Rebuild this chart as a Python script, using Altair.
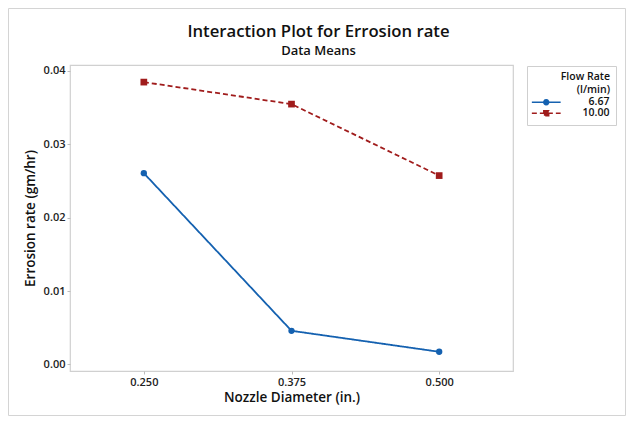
import altair as alt
import pandas as pd

diameters = [0.250, 0.375, 0.500]
flow_levels = ["6.67", "10.00"]
rate_667 = [0.02606, 0.00458, 0.00172]
rate_1000 = [0.03847, 0.03547, 0.02573]

x_ticks = [0.250, 0.375, 0.500]
y_ticks = [0.00, 0.01, 0.02, 0.03, 0.04]

colors = ["#1461b0", "#a01c1c"]

rows = []
for d, r in zip(diameters, rate_667):
    rows.append({"diam": d, "rate": r, "flow": "6.67"})
for d, r in zip(diameters, rate_1000):
    rows.append({"diam": d, "rate": r, "flow": "10.00"})
df = pd.DataFrame(rows)

FONT = "Open Sans"
W, H = 443, 306
PAD = {"left": 62, "top": 57, "right": 113, "bottom": 45}

xenc = alt.X("diam:Q", scale=alt.Scale(domain=[0.1875, 0.5625], nice=False, zero=False),
             axis=alt.Axis(values=x_ticks, format=".3f", title="Nozzle Diameter (in.)"))
yenc = alt.Y("rate:Q", scale=alt.Scale(domain=[-0.0009, 0.0408], nice=False, zero=False),
             axis=alt.Axis(values=y_ticks, format=".2f", title="Errosion rate (gm/hr)"))

cscale = alt.Scale(domain=flow_levels, range=colors)
dscale = alt.Scale(domain=flow_levels, range=[[1, 0], [5, 3]])

base = alt.Chart(df)

# legend glyphs: a short line with the marker in its middle (size 64 -> unit = 4px)
circle_path = "M-3.6,0H3.6M0.6,0A0.6,0.6,0,1,1,-0.6,0A0.6,0.6,0,1,1,0.6,0Z"
square_path = "M-3.6,0H3.6M-0.6,-0.6H0.6V0.6H-0.6Z"

leg = alt.Legend(
    title=["Flow Rate", "(l/min)"], orient="none", legendX=W + 14, legendY=1, padding=6,
    strokeColor="#cfcfcf", titleAnchor="end", titleAlign="right",
    titleFont=FONT, titleFontSize=10.5, titleFontWeight=600, titleColor="#111",
    titleLineHeight=12.5, titlePadding=2,
    labelFont=FONT, labelFontSize=10.5, labelFontWeight=600, labelColor="#111",
    labelAlign="right", labelOffset=58, symbolSize=64, symbolOffset=8,
    symbolStrokeWidth=1.6, rowPadding=-2,
)

legend_layer = base.transform_filter("false").mark_point(filled=True, opacity=1).encode(
    x=xenc, y=yenc,
    color=alt.Color("flow:N", scale=cscale, legend=leg),
    stroke=alt.Stroke("flow:N", scale=alt.Scale(domain=flow_levels, range=colors), legend=leg),
    strokeDash=alt.StrokeDash("flow:N", scale=dscale, legend=leg),
    shape=alt.Shape("flow:N", scale=alt.Scale(domain=flow_levels, range=[circle_path, square_path]), legend=leg),
)

lines = base.mark_line(strokeWidth=1.8).encode(
    x=xenc, y=yenc,
    color=alt.Color("flow:N", scale=cscale),
    strokeDash=alt.StrokeDash("flow:N", scale=dscale),
    detail="flow:N",
)

pts_c = base.transform_filter(alt.datum.flow == "6.67").mark_point(
    filled=True, opacity=1, size=40, shape="circle").encode(
    x=xenc, y=yenc, color=alt.Color("flow:N", scale=cscale))

pts_s = base.transform_filter(alt.datum.flow == "10.00").mark_point(
    filled=True, opacity=1, size=45, shape="square").encode(
    x=xenc, y=yenc, color=alt.Color("flow:N", scale=cscale))

border = alt.Chart(pd.DataFrame({"a": [0]})).mark_rect(
    fill="transparent", stroke="#d4d4d4", strokeWidth=1).encode(
    x=alt.value(-PAD["left"] + 0.5), x2=alt.value(W + PAD["right"] - 0.5),
    y=alt.value(-PAD["top"] + 0.5), y2=alt.value(H + PAD["bottom"] - 0.5))

chart = alt.layer(border, legend_layer, lines, pts_c, pts_s).properties(
    width=W, height=H,
    autosize=alt.AutoSizeParams(type="none"),
    padding=PAD,
    title=alt.TitleParams(
        text="Interaction Plot for Errosion rate", subtitle="Data Means",
        anchor="middle", frame="group", dx=27, dy=58,
        font=FONT, fontSize=16.7, fontWeight=600, color="#111",
        subtitleFont=FONT, subtitleFontSize=13, subtitleFontWeight=600, subtitleColor="#111",
        subtitlePadding=4, offset=8),
).configure_view(stroke="#d0d0d0", strokeWidth=1.2).configure_axis(
    grid=False, domain=False, tickColor="#bdbdbd", tickSize=3, labelPadding=2,
    labelFont=FONT, labelFontSize=11, labelFontWeight=600, labelColor="#222",
    titleFont=FONT, titleFontSize=13.5, titleFontWeight=600, titleColor="#111",
).configure_axisX(titlePadding=3).configure_axisY(titlePadding=6)

chart.save("out.html", embed_options={"renderer": "svg", "actions": False})
